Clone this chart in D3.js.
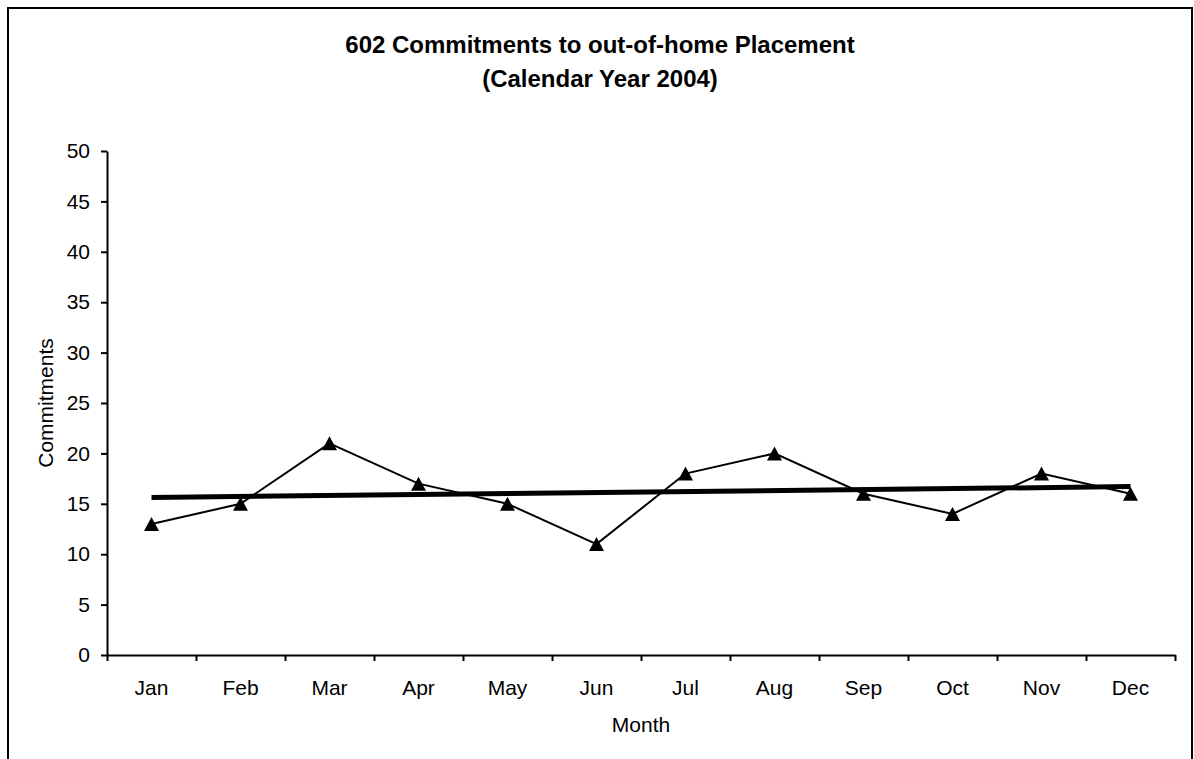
<!DOCTYPE html>
<html>
<head>
<meta charset="utf-8">
<script src="https://cdn.jsdelivr.net/npm/d3@7"></script>
<style>
  html, body { margin: 0; padding: 0; background: #fff; }
  svg { display: block; font-family: Arial, "Liberation Sans", sans-serif; }
</style>
</head>
<body>
<div id="viz"></div>
<script>
// Chart data
const months = ['Jan', 'Feb', 'Mar', 'Apr', 'May', 'Jun', 'Jul', 'Aug', 'Sep', 'Oct', 'Nov', 'Dec'];
const commitments = [13, 15, 21, 17, 15, 11, 18, 20, 16, 14, 18, 16];
const yTicks = [0, 5, 10, 15, 20, 25, 30, 35, 40, 45, 50];
const titleLines = ['602 Commitments to out-of-home Placement', '(Calendar Year 2004)'];

(function () {
  const W = 1194, H = 759;
  const margin = { top: 151, right: 19, bottom: 104, left: 107 };
  const width = W - margin.left - margin.right;
  const height = H - margin.top - margin.bottom;
  const font = 'Arial, "Liberation Sans", sans-serif';

  const root = d3.select('#viz')
    .append('svg')
    .attr('width', W)
    .attr('height', H);

  // outer chart border (bottom edge falls outside the picture)
  root.append('rect')
    .attr('x', 8).attr('y', 8)
    .attr('width', 1184).attr('height', 780)
    .attr('fill', 'none')
    .attr('stroke', '#000')
    .attr('stroke-width', 2);

  // Title
  root.append('g')
    .selectAll('text')
    .data(titleLines)
    .enter()
    .append('text')
    .attr('x', 600)
    .attr('y', (d, i) => 53 + i * 34)
    .attr('text-anchor', 'middle')
    .attr('font-size', 24)
    .attr('font-weight', 'bold')
    .text((d) => d);

  const svg = root.append('g')
    .attr('transform', `translate(${margin.left},${margin.top})`);

  const x = d3.scaleBand().domain(months).range([0, width]);
  const xEdge = d3.scaleLinear().domain([0, months.length]).range([0, width]);
  const y = d3.scaleLinear().domain([0, 50]).range([height, 0]);

  // Y axis
  const yAxis = svg.append('g')
    .call(d3.axisLeft(y).tickValues(yTicks).tickSize(6).tickPadding(11).tickSizeOuter(0));
  yAxis.select('.domain').attr('stroke-width', 2);
  yAxis.selectAll('.tick line').attr('stroke-width', 2);
  yAxis.selectAll('text').attr('font-size', 21).attr('font-family', font).attr('fill', '#000');

  // X axis: ticks on category boundaries
  const xTicksAxis = svg.append('g')
    .attr('transform', `translate(0,${height})`)
    .call(d3.axisBottom(xEdge).tickValues(d3.range(0, months.length + 1)).tickSize(6).tickFormat('').tickSizeOuter(0));
  xTicksAxis.select('.domain').attr('stroke-width', 2);
  xTicksAxis.selectAll('.tick line').attr('stroke-width', 2);

  // X axis labels centred in each category
  const xLabels = svg.append('g')
    .attr('transform', `translate(0,${height})`)
    .call(d3.axisBottom(x).tickSize(0).tickPadding(25));
  xLabels.select('.domain').remove();
  xLabels.selectAll('text').attr('font-size', 21).attr('font-family', font).attr('fill', '#000');

  // Axis titles
  svg.append('text')
    .attr('x', width / 2)
    .attr('y', height + 77)
    .attr('text-anchor', 'middle')
    .attr('font-size', 21)
    .text('Month');

  svg.append('text')
    .attr('transform', `translate(${-54},${height / 2}) rotate(-90)`)
    .attr('text-anchor', 'middle')
    .attr('font-size', 21)
    .text('Commitments');

  const cx = (m) => x(m) + x.bandwidth() / 2;
  const data = months.map((m, i) => ({ month: m, value: commitments[i] }));

  // Data line
  svg.append('path')
    .datum(data)
    .attr('fill', 'none')
    .attr('stroke', '#000')
    .attr('stroke-width', 2)
    .attr('d', d3.line().x((d) => cx(d.month)).y((d) => y(d.value)));

  // Linear trendline (least squares over the monthly values)
  const n = commitments.length;
  const xs = d3.range(1, n + 1);
  const mx = d3.mean(xs), my = d3.mean(commitments);
  const slope = d3.sum(xs, (v, i) => (v - mx) * (commitments[i] - my)) / d3.sum(xs, (v) => (v - mx) * (v - mx));
  const intercept = my - slope * mx;
  const trend = [0, n - 1].map((i) => ({ month: months[i], value: intercept + slope * (i + 1) }));

  svg.append('path')
    .datum(trend)
    .attr('fill', 'none')
    .attr('stroke', '#000')
    .attr('stroke-width', 5)
    .attr('d', d3.line().x((d) => cx(d.month)).y((d) => y(d.value)));

  // Triangle markers
  svg.selectAll('.marker')
    .data(data)
    .enter()
    .append('path')
    .attr('class', 'marker')
    .attr('transform', (d) => `translate(${cx(d.month)},${y(d.value)})`)
    .attr('d', 'M0,-7 L7.5,7 L-7.5,7 Z')
    .attr('fill', '#000');
})();
</script>
</body>
</html>
